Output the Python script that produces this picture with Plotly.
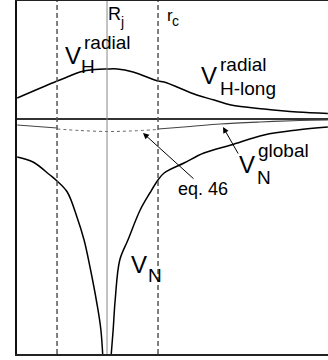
import plotly.graph_objects as go

# ---- data (r in units of r_c, centred on R_j) ----
vh_x = [-1.76, -0.98, -0.73, -0.53, -0.24, 0.0, 0.2, 0.51, 1.0, 1.12, 1.76, 2.1, 2.43, 3.08, 3.73, 4.33]
vh_y = [2.1, 3.8, 4.3, 4.7, 4.95, 5.0, 5.0, 4.7, 3.8, 3.7, 2.4, 1.9, 1.4, 1.0, 0.7, 0.55]

vn_left_x = [-1.76, -1.45, -1.12, -0.98, -0.78, -0.59, -0.45, -0.33, -0.20, -0.12, -0.07]
vn_left_y = [-3.8, -4.3, -5.6, -6.2, -7.3, -9.8, -12.1, -14.9, -18.4, -21.1, -25.0]
vn_right_x = [0.06, 0.12, 0.16, 0.25, 0.41, 0.65, 0.84, 1.0, 1.12, 1.51, 1.9, 2.43, 3.08, 3.73, 4.33]
vn_right_y = [-25.0, -21.1, -18.1, -14.1, -12.1, -9.1, -7.4, -6.1, -5.4, -4.4, -3.4, -2.6, -1.6, -1.1, -0.8]

glob_left_x = [-1.76, -0.98]
glob_left_y = [-0.6, -0.9]
eq46_x = [-0.98, -0.53, 0.0, 0.45, 1.0]
eq46_y = [-1.0, -1.15, -1.25, -1.2, -1.05]
glob_right_x = [1.0, 1.63, 2.22, 3.0, 3.78, 4.33]
glob_right_y = [-1.0, -0.75, -0.5, -0.3, -0.15, -0.1]

rj_pos = [0.0]
rc_pos = [-0.98, 1.0]

W, H = 328, 360
ML, MR, MT, MB = 17, 0, 1, 6
X0, X1 = -1.765, 4.333
Y0, Y1 = -23.5, 11.8

def px(xp):
    return (xp - ML) / (W - ML - MR)

def py(yp):
    return (H - MB - yp) / (H - MT - MB)

fig = go.Figure()
line_black = dict(color="black", width=1.5)
fig.add_trace(go.Scatter(x=vh_x, y=vh_y, mode="lines", line=line_black, line_shape="spline"))
fig.add_trace(go.Scatter(x=vn_left_x, y=vn_left_y, mode="lines", line=line_black, line_shape="spline"))
fig.add_trace(go.Scatter(x=vn_right_x, y=vn_right_y, mode="lines", line=line_black, line_shape="spline"))
fig.add_trace(go.Scatter(x=glob_left_x, y=glob_left_y, mode="lines", line=dict(color="#444", width=1.2)))
fig.add_trace(go.Scatter(x=eq46_x, y=eq46_y, mode="lines", line=dict(color="#666", width=1, dash="dot"), line_shape="spline"))
fig.add_trace(go.Scatter(x=glob_right_x, y=glob_right_y, mode="lines", line=dict(color="#444", width=1.2), line_shape="spline"))

for xv in rc_pos:
    fig.add_vline(x=xv, line=dict(color="#555", width=1.5, dash="5px,3px"))
for xv in rj_pos:
    fig.add_vline(x=xv, line=dict(color="#888", width=1))

FONT = "Liberation Sans, Arial, sans-serif"
def label(text, xp, yp, size):
    fig.add_annotation(text=text, x=px(xp), y=py(yp), xref="paper", yref="paper",
                       xanchor="left", yanchor="middle", showarrow=False,
                       font=dict(family=FONT, size=size, color="black"))

BIG, SUP = 24, 19
# V_H^radial
label("V", 63, 56, BIG)
label("radial", 82, 42, SUP)
label("H", 79, 67, SUP)
# V_H-long^radial
label("V", 199, 76, BIG)
label("radial", 218, 64, SUP)
label("H-long", 218, 89, SUP)
# V_N^global
label("V", 237, 164, BIG)
label("global", 256, 151, SUP)
label("N", 255, 177, SUP)
# V_N
label("V", 129, 264, BIG)
label("N", 146, 275, SUP)
# eq. 46
label("eq. 46", 176, 189, 18)
# R_j, r_c
label("R", 106, 14, 18)
label("j", 118, 22, 14)
label("r", 165, 15, 17)
label("c", 170, 21, 14)

def arrow(hx, hy, tx, ty):
    fig.add_annotation(x=px(hx), y=py(hy), ax=tx - hx, ay=ty - hy, xref="paper", yref="paper",
                       text="", showarrow=True, arrowhead=2, arrowsize=1.2, arrowwidth=1,
                       arrowcolor="black")

arrow(143, 133, 195, 180)
arrow(223, 127, 239, 155)

fig.update_layout(
    width=W, height=H, margin=dict(l=ML, r=MR, t=MT, b=MB),
    paper_bgcolor="white", plot_bgcolor="white", showlegend=False,
    xaxis=dict(range=[X0, X1], showgrid=False, zeroline=False, showticklabels=False, ticks="",
               showline=True, linecolor="#222", linewidth=2, mirror=True),
    yaxis=dict(range=[Y0, Y1], showgrid=False, zeroline=True, zerolinecolor="#333", zerolinewidth=2,
               showticklabels=False, ticks="", showline=True, linecolor="#111", linewidth=2),
)
fig.write_html("out.html", config={"displayModeBar": False},
               post_script="document.body.style.margin='0';")
